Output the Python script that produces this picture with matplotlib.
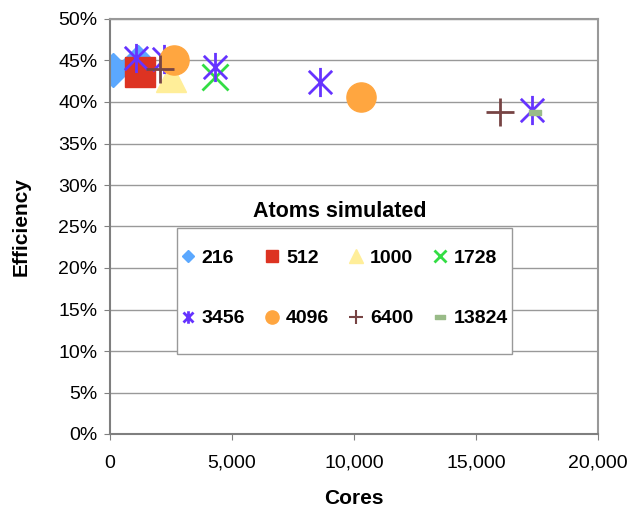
import matplotlib.pyplot as plt
import numpy as np
from matplotlib.lines import Line2D
from matplotlib.patches import Rectangle
from matplotlib.path import Path
from matplotlib.ticker import FuncFormatter, MultipleLocator

plt.rcParams['font.family'] = ['Liberation Sans', 'DejaVu Sans']

# data: (cores, efficiency %)
atoms = ['216', '512', '1000', '1728', '3456', '4096', '6400', '13824']
cores_216 = [123, 1148]
eff_216 = [43.9, 44.8]
cores_512 = [1230]
eff_512 = [43.6]
cores_1000 = [2500]
eff_1000 = [43.0]
cores_1728 = [4303]
eff_1728 = [43.0]
cores_3456 = [1066, 2200, 4303, 8607, 17295]
eff_3456 = [45.3, 45.2, 44.2, 42.4, 39.0]
cores_4096 = [2623, 10287]
eff_4096 = [45.1, 40.6]
cores_6400 = [2049, 15984]
eff_6400 = [44.0, 38.8]
cores_13824 = [17418]
eff_13824 = [38.8]

# excel style star: vertical bar plus an x
star = Path([(0, -1), (0, 1), (-0.8, -0.8), (0.8, 0.8), (-0.8, 0.8), (0.8, -0.8)],
            [Path.MOVETO, Path.LINETO, Path.MOVETO, Path.LINETO, Path.MOVETO, Path.LINETO])
dash = Path([(-1, -0.45), (1, -0.45), (1, 0.45), (-1, 0.45), (-1, -0.45)],
            [Path.MOVETO, Path.LINETO, Path.LINETO, Path.LINETO, Path.CLOSEPOLY])

cols = ['#5BA8FF', '#DD3322', '#FFEE99', '#33DD44', '#6633FF', '#FFA640', '#774444', '#99BB88']

fig = plt.figure(figsize=(6.34, 5.08), dpi=100)
ax = fig.add_axes([110/634, 74/508, 488/634, 415/508])

ax.plot(cores_216, eff_216, ls='none', marker='D', ms=17, color=cols[0], mec=cols[0])
ax.plot(cores_512, eff_512, ls='none', marker='s', ms=21, color=cols[1], mec=cols[1])
ax.plot(cores_1000, eff_1000, ls='none', marker='^', ms=21, color=cols[2], mec=cols[2])
ax.plot(cores_1728, eff_1728, ls='none', marker='x', ms=19, mew=2, color=cols[3])
ax.plot(cores_3456, eff_3456, ls='none', marker=star, ms=21, mew=2, color=cols[4])
ax.plot(cores_4096, eff_4096, ls='none', marker='o', ms=21, color=cols[5], mec=cols[5])
ax.plot(cores_6400, eff_6400, ls='none', marker='+', ms=20, mew=2, color=cols[6])
ax.plot(cores_13824, eff_13824, ls='none', marker=dash, ms=8, color=cols[7], mec=cols[7])

ax.set_xlim(0, 20000)
ax.set_ylim(0, 50)
ax.xaxis.set_major_locator(MultipleLocator(5000))
ax.yaxis.set_major_locator(MultipleLocator(5))
ax.xaxis.set_major_formatter(FuncFormatter(lambda v, p: '{:,.0f}'.format(v)))
ax.yaxis.set_major_formatter(FuncFormatter(lambda v, p: '{:.0f}%'.format(v)))
ax.grid(axis='y', color='#999999', lw=1)
ax.set_axisbelow(True)
ax.tick_params(axis='x', length=4, color='#808080', labelsize=14, pad=11)
ax.tick_params(axis='y', length=4, color='#808080', labelsize=14, pad=5)
for s in ['left', 'bottom']:
    ax.spines[s].set_color('#7f7f7f')
    ax.spines[s].set_linewidth(1.5)
for s in ['top', 'right']:
    ax.spines[s].set_color('#999999')
    ax.spines[s].set_linewidth(1.5)

ax.set_xlabel('Cores', fontsize=15, fontweight='bold', labelpad=12)
ax.set_ylabel('Efficiency', fontsize=15, fontweight='bold', labelpad=20)

# legend box
ax.add_patch(Rectangle((0.1373, 0.1928), 0.6865, 0.3036, transform=ax.transAxes,
                       facecolor='white', edgecolor='#999999', lw=1, zorder=3))
ax.text(0.471, 0.537, 'Atoms simulated', transform=ax.transAxes, ha='center', va='center',
        fontsize=15.5, fontweight='bold')

handles = [
    Line2D([], [], ls='none', marker='D', ms=6.5, color=cols[0]),
    Line2D([], [], ls='none', marker='s', ms=8.5, color=cols[1]),
    Line2D([], [], ls='none', marker='^', ms=10, color=cols[2]),
    Line2D([], [], ls='none', marker='x', ms=8.5, mew=2, color=cols[3]),
    Line2D([], [], ls='none', marker=star, ms=9, mew=2, color=cols[4]),
    Line2D([], [], ls='none', marker='o', ms=9.5, color=cols[5]),
    Line2D([], [], ls='none', marker='+', ms=9.5, mew=1.5, color=cols[6]),
    Line2D([], [], ls='none', marker=dash, ms=7, color=cols[7]),
]
# legend fills column by column, so interleave to get two rows of four
order = [0, 4, 1, 5, 2, 6, 3, 7]
leg = ax.legend([handles[i] for i in order], [atoms[i] for i in order], ncol=4,
                loc='center', bbox_to_anchor=(0.481, 0.351),
                frameon=False, prop={'size': 14, 'weight': 'bold'},
                handlelength=0.7, handletextpad=0.35, columnspacing=1.05,
                labelspacing=2.2, borderpad=0)
leg.set_zorder(5)

fig.savefig('out.png', dpi=100)
